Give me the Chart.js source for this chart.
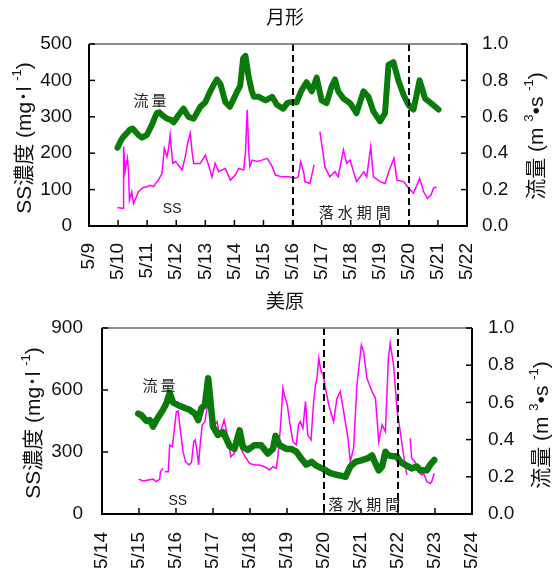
<!DOCTYPE html>
<html><head><meta charset="utf-8">
<script src="https://cdn.jsdelivr.net/npm/chart.js@4.4.0/dist/chart.umd.min.js"></script>
<style>
html,body{margin:0;padding:0;background:#fff;}
#wrap{width:556px;height:575px;position:relative;overflow:hidden;}
canvas{position:absolute;left:0;}
</style></head><body>
<div id="wrap">
<canvas id="c1" width="556" height="285" style="top:0"></canvas>
<canvas id="c2" width="556" height="290" style="top:285px"></canvas>
</div>
<script>
// ---------- 月形 (top panel) ----------
const topTickLabels = ['5/9','5/10','5/11','5/12','5/13','5/14','5/15','5/16','5/17','5/18','5/19','5/20','5/21','5/22'];
const topFlowDay = [9.98,10.1,10.18,10.3,10.41,10.5,10.59,10.7,10.82,10.99,11.16,11.33,11.42,11.51,11.68,11.8,11.91,12.08,12.25,12.42,12.6,12.83,13.0,13.17,13.3,13.4,13.52,13.69,13.84,13.98,14.1,14.2,14.3,14.38,14.49,14.6,14.67,14.84,15.07,15.3,15.47,15.68,15.82,15.91,16.14,16.31,16.48,16.66,16.83,17.0,17.17,17.34,17.46,17.57,17.75,17.98,18.2,18.44,18.61,18.78,19.01,19.18,19.3,19.47,19.64,19.82,19.99,20.16,20.37,20.56,20.76,21.02];
const topFlow = [0.43,0.47,0.49,0.51,0.53,0.535,0.52,0.50,0.485,0.50,0.555,0.62,0.625,0.61,0.59,0.585,0.57,0.61,0.645,0.60,0.59,0.655,0.68,0.74,0.78,0.805,0.78,0.68,0.655,0.70,0.74,0.77,0.92,0.935,0.82,0.74,0.71,0.71,0.69,0.71,0.665,0.645,0.675,0.68,0.68,0.745,0.79,0.74,0.815,0.69,0.675,0.765,0.805,0.74,0.70,0.675,0.62,0.74,0.71,0.63,0.575,0.62,0.885,0.90,0.80,0.72,0.665,0.64,0.80,0.70,0.675,0.64];
const topSSDay = [9.98,10.13,10.17,10.19,10.24,10.32,10.36,10.39,10.47,10.53,10.6,10.7,10.85,10.99,11.1,11.22,11.3,11.39,11.51,11.59,11.68,11.74,11.79,11.88,11.97,12.1,12.2,12.31,12.4,12.48,12.55,12.6,12.83,13.0,13.1,13.23,13.34,13.46,13.6,13.69,13.86,14.03,14.15,14.32,14.38,14.44,14.5,14.53,14.61,14.78,14.95,15.13,15.3,15.41,15.64,15.87,16.1,16.2,16.28,16.39,16.42,16.6,16.74,16.84,16.94,17.05,17.11,17.28,17.46,17.57,17.75,17.86,17.98,18.2,18.45,18.55,18.69,18.78,19.01,19.18,19.33,19.49,19.59,19.82,19.99,20.16,20.28,20.37,20.51,20.64,20.76,20.85,20.95];
const topSS = [51,49,49,218,149,186,150,71,94,62,75,94,105,108,112,108,118,126,145,213,190,215,250,172,177,165,154,190,230,255,200,172,172,195,170,135,172,149,155,158,126,140,158,154,200,319,200,163,181,177,181,186,163,140,135,135,131,135,177,145,122,117,168,null,259,200,163,135,149,135,209,172,181,122,149,135,218,135,122,117,154,186,126,122,104,90,113,131,94,76,85,104,107];
const topDrain = [16, 20];

// ---------- 美原 (bottom panel) ----------
const botTickLabels = ['5/14','5/15','5/16','5/17','5/18','5/19','5/20','5/21','5/22','5/23','5/24'];
const botFlowDay = [14.98,15.07,15.2,15.29,15.38,15.47,15.65,15.74,15.83,15.92,16.06,16.24,16.37,16.51,16.6,16.69,16.78,16.87,16.96,17.0,17.13,17.27,17.36,17.45,17.58,17.72,17.81,17.94,18.12,18.3,18.48,18.62,18.69,18.8,18.98,19.11,19.25,19.38,19.52,19.67,19.79,20.0,20.17,20.35,20.49,20.58,20.71,20.85,21.03,21.19,21.3,21.37,21.48,21.57,21.66,21.74,21.88,21.97,22.06,22.19,22.37,22.51,22.6,22.78,22.87,22.98];
const botFlow = [0.54,0.53,0.50,0.505,0.47,0.505,0.56,0.595,0.65,0.60,0.585,0.57,0.56,0.54,0.505,0.57,0.585,0.73,0.55,0.47,0.425,0.44,0.405,0.365,0.35,0.45,0.36,0.345,0.37,0.37,0.325,0.35,0.42,0.37,0.35,0.35,0.335,0.30,0.265,0.28,0.26,0.24,0.22,0.21,0.205,0.20,0.255,0.28,0.29,0.30,0.315,0.28,0.235,0.255,0.335,0.315,0.31,0.31,0.28,0.265,0.245,0.255,0.235,0.235,0.265,0.29];
const botSSDay = [14.99,15.11,15.25,15.38,15.47,15.56,15.58,15.65,15.67,15.7,15.79,15.83,15.9,15.97,16.01,16.06,16.1,16.19,16.26,16.35,16.42,16.48,16.52,16.57,16.61,16.66,16.71,16.78,16.84,16.89,16.96,17.05,17.11,17.18,17.3,17.39,17.48,17.58,17.69,17.77,17.87,17.99,18.12,18.26,18.39,18.53,18.62,18.71,18.75,18.82,18.89,18.93,19.01,19.07,19.16,19.25,19.31,19.36,19.43,19.5,19.56,19.65,19.72,19.77,19.81,19.86,19.92,19.98,20.04,20.13,20.26,20.35,20.44,20.53,20.65,20.71,20.8,20.89,21.01,21.07,21.16,21.3,21.39,21.48,21.57,21.66,21.74,21.79,21.88,21.97,22.06,22.15,22.24,22.28,22.33,22.37,22.46,22.55,22.64,22.69,22.78,22.87,22.91,22.98];
const botSS = [169,160,165,169,157,169,205,221,null,205,205,334,326,431,495,499,431,302,253,237,250,350,358,302,237,350,431,447,511,527,463,431,447,382,455,382,277,294,350,310,277,245,237,237,229,213,229,221,269,415,608,576,527,447,350,334,431,447,415,544,382,358,544,624,657,753,689,673,608,527,447,560,592,495,366,253,318,624,818,785,657,592,560,350,431,398,753,826,721,511,398,285,189,null,366,269,253,205,189,197,156,148,156,197];
const botDrain = [20, 22];

const LAT = '"Liberation Sans", Arial, "Noto Sans CJK JP", sans-serif';
const CJK = '"Noto Sans CJK JP", "Liberation Sans", sans-serif';

function pairs(t, v){ return t.map((d,i)=>({x:d, y:v[i]})); }

function drawRotated(ctx, cx, cy, parts, size){
  ctx.save();
  ctx.translate(cx, cy);
  ctx.rotate(-Math.PI/2);
  let total = 0;
  const ws = parts.map(p=>{ ctx.font = (p.sup? Math.round(size*0.6):size)+'px '+LAT; const w = ctx.measureText(p.t).width; total += w; return w; });
  let x = -total/2;
  ctx.fillStyle = '#111';
  ctx.textBaseline = 'middle';
  ctx.textAlign = 'left';
  parts.forEach((p,i)=>{
    ctx.font = (p.sup? Math.round(size*0.6):size)+'px '+LAT;
    ctx.fillText(p.t, x, p.sup ? -size*0.38 : 0);
    x += ws[i];
  });
  ctx.restore();
}

function makeDeco(o){
  return {
    id:'deco',
    afterDraw(chart){
      const ctx = chart.ctx, a = chart.chartArea, xs = chart.scales.x, yl = chart.scales.y, yr = chart.scales.y1;
      ctx.save();
      ctx.strokeStyle = '#000'; ctx.lineWidth = 2; ctx.setLineDash([7,4]);
      o.drain.forEach(d=>{ const px = Math.round(xs.getPixelForValue(d)); ctx.beginPath(); ctx.moveTo(px, a.top); ctx.lineTo(px, a.bottom); ctx.stroke(); });
      ctx.setLineDash([]);
      ctx.strokeStyle = '#666'; ctx.lineWidth = 1.5;
      ctx.beginPath(); ctx.moveTo(a.left, a.top); ctx.lineTo(a.right, a.top); ctx.stroke();
      ctx.strokeStyle = '#000'; ctx.lineWidth = 2;
      ctx.beginPath(); ctx.moveTo(a.left, a.top); ctx.lineTo(a.left, a.bottom); ctx.lineTo(a.right, a.bottom); ctx.lineTo(a.right, a.top); ctx.stroke();
      ctx.lineWidth = 1.5;
      yl.ticks.forEach(t=>{ const py = yl.getPixelForValue(t.value); ctx.beginPath(); ctx.moveTo(a.left, py); ctx.lineTo(a.left+6, py); ctx.stroke(); });
      yr.ticks.forEach(t=>{ const py = yr.getPixelForValue(t.value); ctx.beginPath(); ctx.moveTo(a.right, py); ctx.lineTo(a.right-6, py); ctx.stroke(); });
      xs.ticks.forEach(t=>{ const px = xs.getPixelForValue(t.value); ctx.beginPath(); ctx.moveTo(px, a.bottom); ctx.lineTo(px, a.bottom-6); ctx.stroke(); });
      ctx.fillStyle = '#222'; ctx.textAlign = 'center'; ctx.textBaseline = 'middle';
      o.notes.forEach(n=>{
        ctx.font = n.font;
        ctx.letterSpacing = n.sp || '0px';
        ctx.fillText(n.t, xs.getPixelForValue(n.x) + (n.sp ? parseFloat(n.sp)/2 : 0), yl.getPixelForValue(n.y));
      });
      ctx.letterSpacing = '0px';
      ctx.font = '19px '+CJK; ctx.fillStyle = '#111';
      ctx.fillText(o.title, o.titleX, o.titleY);
      ctx.restore();
      drawRotated(ctx, o.lTitleX, o.lTitleY, [{t:'SS濃度 (mg･l '},{t:'-1',sup:true},{t:')'}], 21);
      drawRotated(ctx, o.rTitleX, o.rTitleY, [{t:'流量 (m '},{t:'3',sup:true},{t:'•s '},{t:'-1',sup:true},{t:')'}], 21);
    }
  };
}

function build(id, o){
  return new Chart(document.getElementById(id), {
    type:'line',
    data:{datasets:[
      {label:'流量', data:pairs(o.flowDay,o.flow), yAxisID:'y1', borderColor:'#0a7a0a', borderWidth:o.flowW, pointRadius:0, tension:0, order:0, borderJoinStyle:'round', borderCapStyle:'round'},
      {label:'SS', data:pairs(o.ssDay,o.ss), yAxisID:'y', borderColor:'#ff00ff', borderWidth:1.5, pointRadius:0, tension:0, spanGaps:false, order:1}
    ]},
    options:{
      responsive:false, animation:false, events:[], devicePixelRatio:1,
      layout:{padding:{top:o.padTop,left:0,right:0,bottom:0}},
      plugins:{legend:{display:false}, tooltip:{enabled:false}, title:{display:false}},
      scales:{
        x:{type:'linear', min:o.xMin, max:o.xMax,
           afterFit(s){ s.height = o.xH; },
           ticks:{stepSize:1, autoSkip:false, maxRotation:90, minRotation:90, padding:o.xPad, color:'#111', font:{size:19, family:LAT},
                  callback:(v)=>o.tickLabels[Math.round(v - o.xMin)]},
           grid:{display:false, drawTicks:false}, border:{display:false}},
        y:{position:'left', min:0, max:o.ssMax,
           afterFit(s){ s.width = o.lW; },
           ticks:{stepSize:o.ssStep, padding:o.lPad, color:'#111', font:{size:19, family:LAT}},
           grid:{display:false, drawTicks:false}, border:{display:false}},
        y1:{position:'right', min:0, max:1,
           afterFit(s){ s.width = o.rW; },
           ticks:{stepSize:0.2, padding:o.rPad, color:'#111', font:{size:19, family:LAT}, callback:(v)=>v.toFixed(1)},
           grid:{display:false, drawTicks:false}, border:{display:false}}
      }
    },
    plugins:[makeDeco(o)]
  });
}

build('c1', {
  title:'月形', titleX:285, titleY:17, flowW:6,
  flowDay:topFlowDay, flow:topFlow, ssDay:topSSDay, ss:topSS, drain:topDrain,
  tickLabels:topTickLabels, xMin:9, xMax:22, ssMax:500, ssStep:100,
  padTop:44, xH:59, lW:89, rW:89, xPad:17, lPad:17, rPad:15,
  lTitleX:25, lTitleY:138, rTitleX:537, rTitleY:136,
  notes:[
    {t:'流量', x:11.1, y:346, font:'15px '+CJK, sp:'3px'},
    {t:'SS', x:11.86, y:47, font:'14px '+LAT},
    {t:'落水期間', x:18.14, y:38, font:'15px '+CJK, sp:'4px'}
  ]
});

build('c2', {
  title:'美原', titleX:285, titleY:16, flowW:6.5,
  flowDay:botFlowDay, flow:botFlow, ssDay:botSSDay, ss:botSS, drain:botDrain,
  tickLabels:botTickLabels, xMin:14, xMax:24, ssMax:900, ssStep:300,
  padTop:43, xH:61, lW:102, rW:84, xPad:18, lPad:19, rPad:16,
  lTitleX:34, lTitleY:138, rTitleX:542, rTitleY:140,
  notes:[
    {t:'流量', x:15.54, y:624, font:'15px '+CJK, sp:'3px'},
    {t:'SS', x:16.05, y:63, font:'14px '+LAT},
    {t:'落水期間', x:21.09, y:48, font:'15px '+CJK, sp:'4px'}
  ]
});
</script>
</body></html>
